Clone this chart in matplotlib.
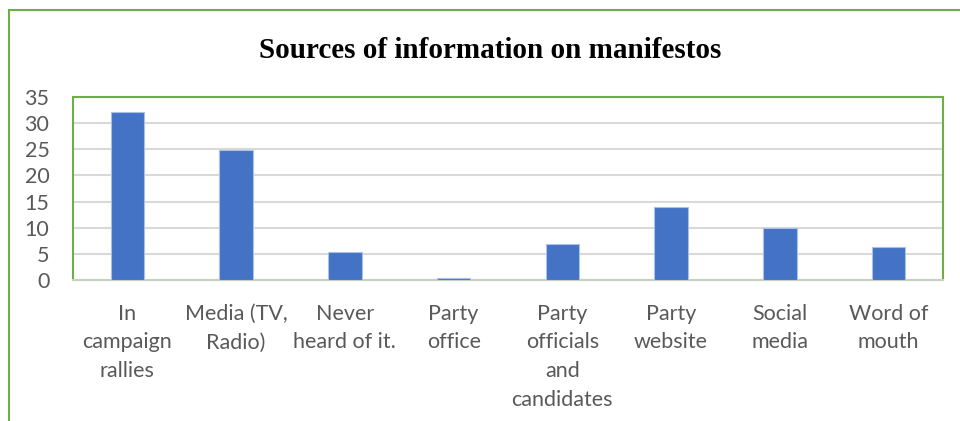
#!/usr/bin/env python3
"""
Bar chart: where respondents heard about party manifestos
"""

import matplotlib.pyplot as plt
from matplotlib.patches import Rectangle

categories = [
    "In\ncampaign\nrallies",
    "Media (TV,\nRadio)",
    "Never\nheard of it.",
    "Party\noffice",
    "Party\nofficials\nand\ncandidates",
    "Party\nwebsite",
    "Social\nmedia",
    "Word of\nmouth",
]
values = [32.2, 24.8, 5.3, 0.4, 6.8, 13.9, 9.9, 6.4]
y_ticks = [0, 5, 10, 15, 20, 25, 30, 35]

GREEN = "#70AD47"
BLUE = "#4472C4"
GREY_TEXT = "#595959"
GRID = "#D9D9D9"

label_font = ["Lato", "DejaVu Sans"]


def plot_sources():
    fig = plt.figure(figsize=(9.6, 4.21), dpi=100)

    # outer chart border (runs off the right and bottom edges)
    fig.patches.append(Rectangle((9 / 960, -0.1), 1.2, 1.1 - 10 / 421,
                                 transform=fig.transFigure, fill=False,
                                 edgecolor=GREEN, linewidth=1.5))

    ax = fig.add_axes([73 / 960, (421 - 280) / 421, 870 / 960, 183 / 421])
    x = range(len(categories))
    ax.bar(x, values, width=0.31, color=BLUE, edgecolor="#A9C0E8",
           linewidth=0.8, zorder=3)

    ax.set_xlim(-0.5, len(categories) - 0.5)
    ax.set_ylim(0, 35)
    ax.set_yticks(y_ticks)
    ax.set_yticklabels([str(t) for t in y_ticks], family=label_font,
                       fontsize=15.5, color=GREY_TEXT)
    ax.set_xticks(list(x))
    ax.set_xticklabels(categories, family=label_font, fontsize=15.5,
                       color=GREY_TEXT, linespacing=1.55, va="top")
    ax.tick_params(axis="both", length=0)
    ax.tick_params(axis="x", pad=17)
    ax.tick_params(axis="y", pad=17)

    ax.grid(axis="y", color=GRID, linewidth=1.5, zorder=0)
    for side in ["top", "left", "right"]:
        ax.spines[side].set_color(GREEN)
        ax.spines[side].set_linewidth(1.5)
    ax.spines["bottom"].set_color("#C5D1BD")
    ax.spines["bottom"].set_linewidth(1.5)

    fig.text(490 / 960, 1 - 50 / 421, "Sources of information on manifestos",
             ha="center", va="center", fontsize=21, fontweight="bold",
             family="Liberation Serif", color="black")

    plt.savefig("out.png", dpi=100)


def main():
    plot_sources()


if __name__ == "__main__":
    main()
